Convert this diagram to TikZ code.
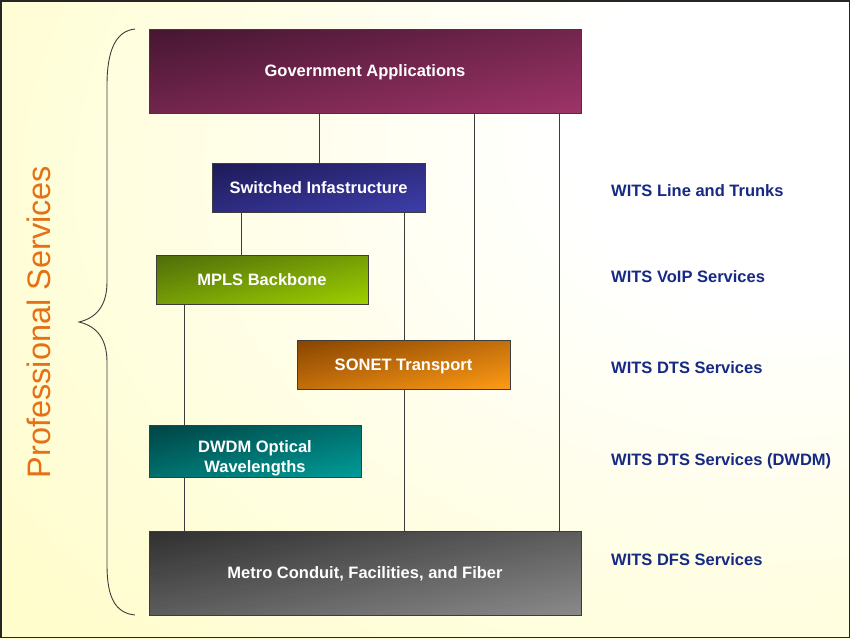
\documentclass[tikz,border=0pt]{standalone}
\usepackage{fontspec}
\setmainfont{Liberation Sans}
\definecolor{bgyellow}{RGB}{255,253,204}
\definecolor{govA}{RGB}{70,22,50}
\definecolor{govB}{RGB}{158,52,104}
\definecolor{swA}{RGB}{30,26,88}
\definecolor{swB}{RGB}{62,62,170}
\definecolor{mpA}{RGB}{78,108,10}
\definecolor{mpB}{RGB}{158,208,0}
\definecolor{soA}{RGB}{135,68,0}
\definecolor{soB}{RGB}{255,155,22}
\definecolor{dwA}{RGB}{0,68,68}
\definecolor{dwB}{RGB}{0,156,152}
\definecolor{meA}{RGB}{48,48,48}
\definecolor{meB}{RGB}{138,138,138}
\definecolor{witsblue}{RGB}{22,42,132}
\definecolor{profor}{RGB}{230,112,22}
\definecolor{linegray}{RGB}{60,60,60}
\pgfdeclareradialshading{bgrad}{\pgfpoint{26bp}{17bp}}{%
  color(0bp)=(white); color(14bp)=(white); color(48bp)=(bgyellow); color(100bp)=(bgyellow)}
% diagonal gradient fill of a box: #1,#2 = centre, #3,#4 = width,height, #5 top-left colour, #6 bottom-right colour
\newcommand{\gradfill}[6]{%
  \begin{scope}
  \pgfmathsetmacro{\gx}{#1-#3/2}\pgfmathsetmacro{\gy}{#2-#4/2}
  \clip (\gx,\gy) rectangle ++(#3,#4);
  \foreach \i in {0,...,59}{%
    \pgfmathsetmacro{\ta}{2*\i/60}%
    \pgfmathsetmacro{\tb}{2*(\i+1)/60+0.012}%
    \pgfmathtruncatemacro{\pc}{100*(\i+0.5)/60}%
    \fill[#6!\pc!#5]
      ({\gx+\ta*#3+2*#3},{\gy-2*#4}) -- ({\gx+\ta*#3-2*#3},{\gy+2*#4})
      -- ({\gx+\tb*#3-2*#3},{\gy+2*#4}) -- ({\gx+\tb*#3+2*#3},{\gy-2*#4}) -- cycle;
  }
  \end{scope}}
\begin{document}
\begin{tikzpicture}[x=1pt,y=-1pt,
  boxnode/.style={draw=linegray, line width=0.8pt, inner sep=0pt, text=white,
    font=\fontsize{16.5}{20}\selectfont\bfseries, align=center, text depth=0pt},
  conn/.style={draw=linegray, line width=0.8pt},
  witslabel/.style={anchor=west, inner sep=0pt, text=witsblue, font=\fontsize{16.5}{20}\selectfont\bfseries}]
\useasboundingbox (0,0) rectangle (850,638);
\shade[shading=bgrad] (0,0) rectangle (850,638);
\draw[line width=1.5pt, black!85] (0.75,0.75) rectangle (849.25,637.25);

% box fills
\gradfill{365}{71}{432}{84}{govA}{govB}
\gradfill{318.5}{187.5}{213}{49}{swA}{swB}
\gradfill{262}{279.5}{212}{49}{mpA}{mpB}
\gradfill{403.5}{364.5}{213}{49}{soA}{soB}
\gradfill{255}{451}{212}{52}{dwA}{dwB}
\gradfill{365}{573}{432}{84}{meA}{meB}

% boxes
\node[boxnode, minimum width=432, minimum height=84] (gov) at (365,71) {Government Applications};
\node[boxnode, minimum width=213, minimum height=49] (sw) at (318.5,187.5) {Switched Infastructure};
\node[boxnode, minimum width=212, minimum height=49] (mpls) at (262,279.5) {MPLS Backbone};
\node[boxnode, minimum width=213, minimum height=49] (sonet) at (403.5,364.5) {SONET Transport};
\node[boxnode, minimum width=212, minimum height=52, align=none, text depth=] (dwdm) at (255,451)
  {\raisebox{-7pt}[\height][\depth]{\begin{tabular}{@{}c@{}}DWDM Optical\\Wavelengths\end{tabular}}};
\node[boxnode, minimum width=432, minimum height=84] (metro) at (365,573) {Metro Conduit, Facilities, and Fiber};

% x positions of connectors
\coordinate (xa) at (319,0);
\coordinate (xb) at (474,0);
\coordinate (xc) at (559,0);
\coordinate (xd) at (241,0);
\coordinate (xe) at (404,0);
\coordinate (xf) at (184,0);

\draw[conn] (gov.south -| xa) -- (sw.north -| xa);
\draw[conn] (gov.south -| xb) -- (sonet.north -| xb);
\draw[conn] (gov.south -| xc) -- (metro.north -| xc);
\draw[conn] (sw.south -| xd) -- (mpls.north -| xd);
\draw[conn] (sw.south -| xe) -- (sonet.north -| xe);
\draw[conn] (mpls.south -| xf) -- (dwdm.north -| xf);
\draw[conn] (dwdm.south -| xf) -- (metro.north -| xf);
\draw[conn] (sonet.south -| xe) -- (metro.north -| xe);

% brace
\draw[draw=linegray, line width=0.9pt] (135,29) .. controls (115,31) and (107,52) .. (107,85) -- (107,282)
  .. controls (107,306) and (96,318) .. (79,322)
  .. controls (96,326) and (107,338) .. (107,362) -- (107,565)
  .. controls (107,597) and (115,613) .. (135,615);
\node[rotate=90, text=profor, inner sep=0pt, font=\fontsize{32.5}{36}\selectfont] (prof) at (39,322) {Professional Services};

% right labels
\node[witslabel] (l1) at (611,191) {WITS Line and Trunks};
\node[witslabel] (l2) at (611,277) {WITS VoIP Services};
\node[witslabel] (l3) at (611,368) {WITS DTS Services};
\node[witslabel] (l4) at (611,461) {WITS DTS Services (DWDM)};
\node[witslabel] (l5) at (611,560) {WITS DFS Services};
\end{tikzpicture}
\end{document}
